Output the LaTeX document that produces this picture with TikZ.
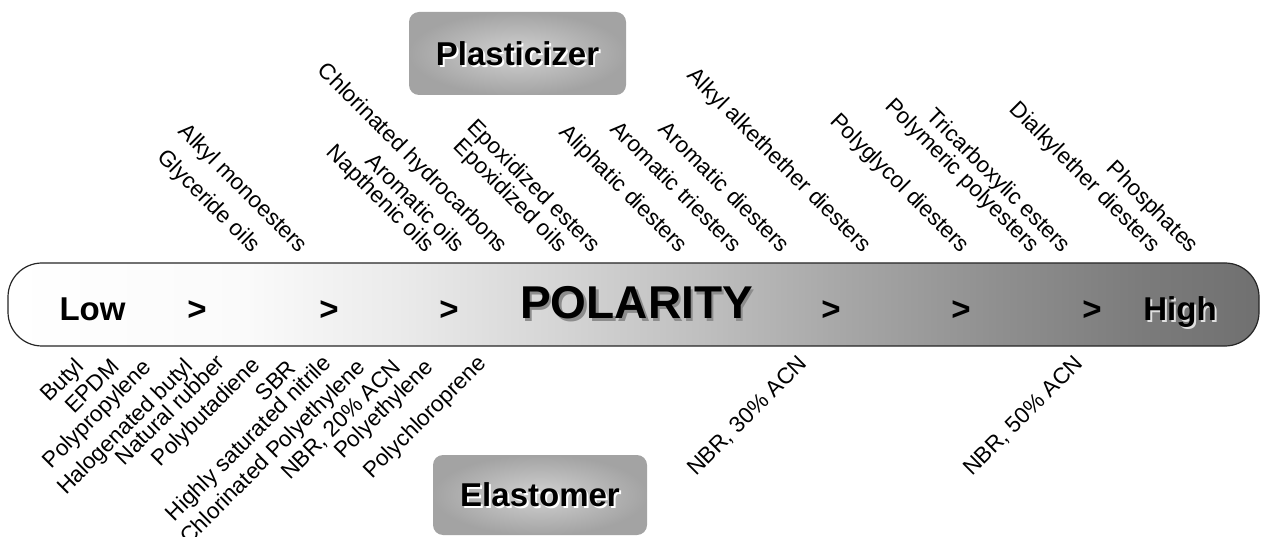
\documentclass[tikz,border=0pt]{standalone}
\usepackage{fontspec}
\setmainfont{Liberation Sans}
\pgfdeclarehorizontalshading{polbar}{100bp}{rgb(0bp)=(1,1,1); rgb(25bp)=(1,1,1); rgb(34.67bp)=(0.98,0.98,0.98); rgb(40.67bp)=(0.92,0.92,0.92); rgb(46.66bp)=(0.84,0.84,0.84); rgb(52.66bp)=(0.75,0.75,0.75); rgb(58.65bp)=(0.65,0.65,0.65); rgb(64.65bp)=(0.56,0.56,0.56); rgb(70.64bp)=(0.48,0.48,0.48); rgb(75bp)=(0.44,0.44,0.44); rgb(100bp)=(0.44,0.44,0.44)}
\begin{document}
\begin{tikzpicture}[x=1pt,y=-1pt,
  lab/.style={font=\fontsize{22.5}{27}\selectfont, inner sep=0pt},
  toplab/.style={lab, rotate=-45, anchor=base east},
  botlab/.style={lab, rotate=45, anchor=north east, text height=16pt, text depth=4.7pt},
  big/.style={font=\fontsize{33}{40}\selectfont\bfseries, inner sep=0pt, anchor=base},
  huge/.style={font=\fontsize{46}{55}\selectfont\bfseries, inner sep=0pt, anchor=base},
  boxsty/.style={rectangle, rounded corners=10pt, inner color=black!18, outer color=black!36, draw=none, minimum width=217pt, minimum height=83pt},
  boxtxt/.style={font=\fontsize{33}{40}\selectfont\bfseries, inner sep=0pt},
  barsty/.style={rectangle, rounded corners=34pt, shading=polbar, draw=black!85, line width=1.2pt, minimum width=1251pt, minimum height=83pt}
]
\useasboundingbox (0,0) rectangle (1261,537);

% bar
\node[barsty] (bar) at (633.5,304.5) {};

% boxes
\node[boxsty] (pbox) at (517.5,53.5) {};
\node[boxtxt, white] (pshad) at ([shift={(2,2)}]pbox.center) {Plasticizer};
\node[boxtxt] (ptxt) at (pbox.center) {Plasticizer};

\node[boxsty, minimum width=214pt, minimum height=80pt] (ebox) at (540,495) {};
\node[boxtxt, white] (eshad) at ([shift={(2,2)}]ebox.center) {Elastomer};
\node[boxtxt] (etxt) at (ebox.center) {Elastomer};

% texts in bar
\node[big] (low) at (92.5,321) {Low};
\node[big] (g1) at (197,321) {>};
\node[big] (g2) at (329,321) {>};
\node[big] (g3) at (449,321) {>};
\node[huge, black!45] (polshad) at (639,322) {POLARITY};
\node[huge] (pol) at (636.5,319) {POLARITY};
\node[big] (g4) at (831,321) {>};
\node[big] (g5) at (961,321) {>};
\node[big] (g6) at (1092,321) {>};
\node[big, black!12] (highshad) at (1182,323) {High};
\node[big] (high) at (1180,321) {High};

% plasticizer labels (top)
\node[toplab] (t1) at (252,254) {Glyceride oils};
\node[toplab] (t2) at (299,254) {Alkyl monoesters};
\node[toplab] (t3) at (426,254) {Napthenic oils};
\node[toplab] (t4) at (456,254) {Aromatic oils};
\node[toplab] (t5) at (499,254) {Chlorinated hydrocarbons};
\node[toplab] (t6) at (559,254) {Epoxidized oils};
\node[toplab] (t7) at (592,254) {Epoxidized esters};
\node[toplab] (t8) at (679,254) {Aliphatic diesters};
\node[toplab] (t9) at (733,254) {Aromatic triesters};
\node[toplab] (t10) at (781,254) {Aromatic diesters};
\node[toplab] (t11) at (863,254) {Alkyl alkethether diesters};
\node[toplab] (t12) at (961,254) {Polyglycol diesters};
\node[toplab] (t13) at (1031,254) {Polymeric polyesters};
\node[toplab] (t14) at (1062,254) {Tricarboxylic esters};
\node[toplab] (t15) at (1152,254) {Dialkylether diesters};
\node[toplab] (t16) at (1190,254) {Phosphates};

% elastomer labels (bottom)
\node[botlab] (b1) at (74,356) {Butyl};
\node[botlab] (b2) at (109,357) {EPDM};
\node[botlab] (b3) at (141,357) {Polypropylene};
\node[botlab] (b4) at (183,356) {Halogenated butyl};
\node[botlab] (b5) at (215,353) {Natural rubber};
\node[botlab] (b6) at (250,355) {Polybutadiene};
\node[botlab] (b7) at (286,358) {SBR};
\node[botlab] (b8) at (321,353) {Highly saturated nitrile};
\node[botlab] (b9) at (355,357) {Chlorinated Polyethylene};
\node[botlab] (b10) at (391,357) {NBR, 20\% ACN};
\node[botlab] (b11) at (423,357) {Polyethylene};
\node[botlab] (b12) at (476,353) {Polychloroprene};
\node[botlab] (b13) at (797,353) {NBR, 30\% ACN};
\node[botlab] (b14) at (1073,353) {NBR, 50\% ACN};
\end{tikzpicture}
\end{document}
